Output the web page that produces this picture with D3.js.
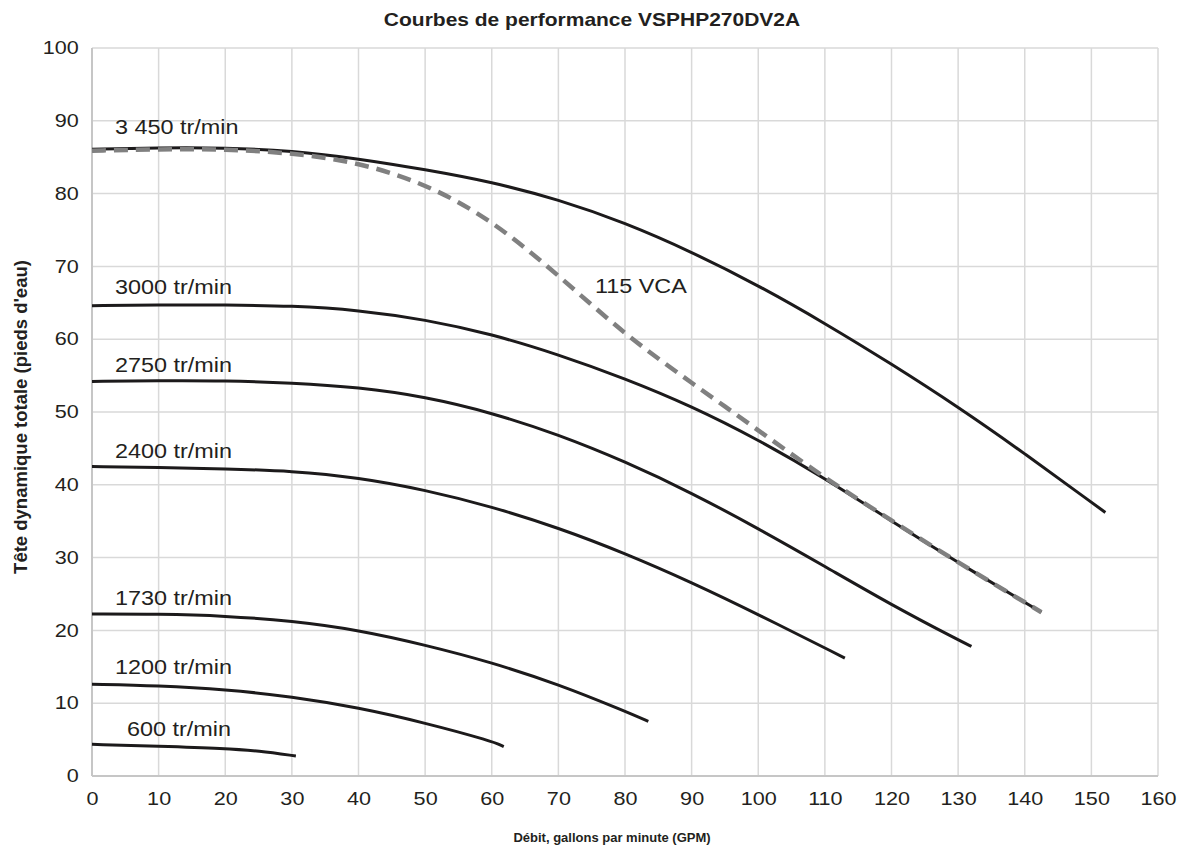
<!DOCTYPE html>
<html lang="fr">
<head>
<meta charset="UTF-8">
<title>Courbes de performance VSPHP270DV2A</title>
<script src="https://d3js.org/d3.v7.min.js"></script>
<style>
  body { margin: 0; background: #fff; }
  svg text { font-family: "Liberation Sans", Arial, Helvetica, sans-serif; fill: #231f20; }
  .grid line { stroke: #d9d9d9; stroke-width: 1.5px; }
  .frame { stroke: #c6c6c6; stroke-width: 2px; }
  .axis path.domain { display: none; }
  .axis text { font-size: 18px; }
  .curve { fill: none; stroke: #1c1a1b; stroke-width: 3px; }
  .vca { fill: none; stroke: #808080; stroke-width: 4.5px; stroke-dasharray: 14, 8; }
  .label { font-size: 19.5px; }
  .title { font-size: 17.5px; font-weight: bold; }
  .xtitle { font-size: 13px; font-weight: bold; }
  .ytitle { font-size: 18.5px; font-weight: bold; }
</style>
</head>
<body>
<script>
  // debit (GPM), tete (pieds d'eau)
  var xTicks = d3.range(0, 161, 10);
  var yTicks = d3.range(0, 101, 10);

  var speeds = ["3 450 tr/min", "3000 tr/min", "2750 tr/min", "2400 tr/min", "1730 tr/min", "1200 tr/min", "600 tr/min"];

  var curve3450 = [[0,86.1],[10,86.3],[20,86.3],[30,85.9],[40,84.8],[50,83.3],[60,81.6],[70,79.2],[80,76.0],[90,72.0],[100,67.4],[110,62.2],[120,56.6],[130,50.7],[140,44.3],[150,37.6],[152.1,36.2]];
  var curve3000 = [[0,64.6],[10,64.7],[20,64.7],[30,64.6],[40,64.0],[50,62.7],[60,60.7],[70,57.9],[80,54.6],[90,50.8],[100,46.2],[110,40.9],[120,35.0],[130,29.3],[142.5,22.5]];
  var curve2750 = [[0,54.2],[10,54.3],[20,54.3],[30,54.0],[40,53.4],[50,52.1],[60,49.9],[70,46.9],[80,43.2],[90,38.9],[100,34.0],[110,28.8],[120,23.5],[130,18.7],[132,17.8]];
  var curve2400 = [[0,42.5],[10,42.4],[20,42.2],[30,41.9],[40,41.0],[50,39.3],[60,37.0],[70,34.1],[80,30.6],[90,26.6],[100,22.2],[113,16.2]];
  var curve1730 = [[0,22.25],[10,22.25],[20,22.0],[30,21.3],[40,20.05],[50,18.0],[60,15.6],[70,12.6],[80,8.9],[83.5,7.5]];
  var curve1200 = [[0,12.6],[10,12.4],[20,11.9],[30,10.9],[40,9.4],[50,7.3],[60,4.8],[61.8,4.05]];
  var curve600 = [[0,4.35],[10,4.1],[20,3.8],[25,3.45],[30.6,2.75]];

  var vcaLabel = "115 VCA";
  var curve115 = [[0,85.9],[10,86.1],[20,86.1],[30,85.6],[40,84.3],[50,81.4],[60,76.4],[70,68.8],[80,60.6],[90,54.0],[100,47.5],[110,40.9],[120,35.1],[130,29.3],[142.5,22.5]];

  var curves = [curve3450, curve3000, curve2750, curve2400, curve1730, curve1200, curve600];

  // label placement (pixels): shift from plot left, lift above curve start
  var labelShift = [[23, 15], [23, 12], [23, 9], [23, 9], [23, 9], [23, 10], [35, 8]];

  var W = 1182, H = 850;
  var stretch = "scale(1.2,1)";

  var x = d3.scaleLinear().domain([0, 160]).range([92, 1158]);
  var y = d3.scaleLinear().domain([0, 100]).range([776, 48]);

  var svg = d3.select("body").append("svg")
    .attr("width", W)
    .attr("height", H);

  var grid = svg.append("g").attr("class", "grid");
  grid.selectAll(".vx").data(xTicks).enter().append("line")
    .attr("x1", function(d) { return x(d); })
    .attr("x2", function(d) { return x(d); })
    .attr("y1", y(0)).attr("y2", y(100));
  grid.selectAll(".hy").data(yTicks).enter().append("line")
    .attr("x1", x(0)).attr("x2", x(160))
    .attr("y1", function(d) { return y(d); })
    .attr("y2", function(d) { return y(d); });

  svg.append("line").attr("class", "frame")
    .attr("x1", x(0)).attr("x2", x(0)).attr("y1", y(0)).attr("y2", y(100));
  svg.append("line").attr("class", "frame")
    .attr("x1", x(0)).attr("x2", x(160)).attr("y1", y(0)).attr("y2", y(0));

  var xAxis = svg.append("g").attr("class", "axis")
    .attr("transform", "translate(0," + y(0) + ")")
    .call(d3.axisBottom(x).tickValues(xTicks).tickSize(0).tickPadding(16));
  xAxis.selectAll("text").attr("transform", stretch);

  var yAxis = svg.append("g").attr("class", "axis")
    .attr("transform", "translate(" + x(0) + ",0)")
    .call(d3.axisLeft(y).tickValues(yTicks).tickSize(0).tickPadding(11));
  yAxis.selectAll("text").attr("transform", stretch);

  var line = d3.line()
    .x(function(d) { return x(d[0]); })
    .y(function(d) { return y(d[1]); })
    .curve(d3.curveBasis);

  svg.selectAll(".curve").data(curves).enter().append("path")
    .attr("class", "curve")
    .attr("d", line);

  svg.append("path").datum(curve115)
    .attr("class", "vca")
    .attr("d", line);

  svg.selectAll(".label").data(speeds).enter().append("text")
    .attr("class", "label")
    .attr("transform", function(d, i) {
      var p = curves[i][0];
      return "translate(" + (x(0) + labelShift[i][0]) + "," + (y(p[1]) - labelShift[i][1]) + ") " + stretch;
    })
    .text(function(d) { return d; });

  svg.append("text").attr("class", "label")
    .attr("transform", "translate(" + (x(75.5)) + "," + (y(66.3)) + ") " + stretch)
    .text(vcaLabel);

  svg.append("text").attr("class", "title")
    .attr("text-anchor", "middle")
    .attr("transform", "translate(592,26) " + stretch)
    .text("Courbes de performance VSPHP270DV2A");

  svg.append("text").attr("class", "xtitle")
    .attr("text-anchor", "middle")
    .attr("transform", "translate(612,842)")
    .text("Débit, gallons par minute (GPM)");

  svg.append("text").attr("class", "ytitle")
    .attr("text-anchor", "middle")
    .attr("transform", "translate(27,417) rotate(-90)")
    .text("Tête dynamique totale (pieds d'eau)");
</script>
</body>
</html>
